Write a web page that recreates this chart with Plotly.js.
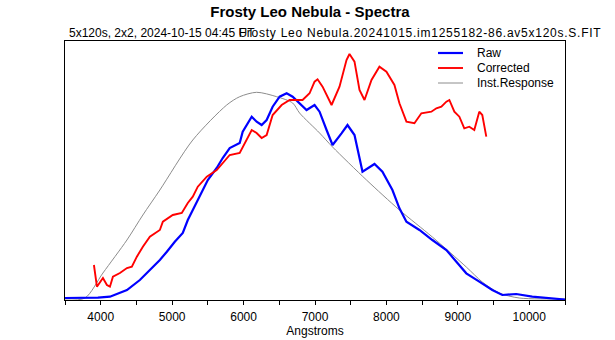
<!DOCTYPE html>
<html>
<head>
<meta charset="utf-8">
<script src="https://cdn.plot.ly/plotly-3.0.1.min.js"></script>
<style>html,body{margin:0;padding:0;background:#fff;}#chart{width:615px;height:340px;}</style>
</head>
<body>
<div id="chart"></div>
<script>
const chartTitle = 'Frosty Leo Nebula - Spectra';
const subLeft = '5x120s, 2x2, 2024-10-15 04:45 UT';
const subRight = 'Frosty Leo Nebula.20241015.im1255182-86.av5x120s.S.FIT';
const xTitle = 'Angstroms';
const seriesNames = ['Raw', 'Corrected', 'Inst.Response'];

const rawWave = [3500,3780,3961,4129,4367,4548,4688,4828,4926,5037,5149,5219,5289,5415,5499,5624,5708,5806,5946,5988,6114,6183,6253,6323,6407,6505,6603,6687,6784,6882,6994,7064,7162,7246,7371,7455,7553,7665,7833,7944,8084,8182,8280,8462,8643,8839,8979,9118,9300,9482,9622,9817,10041,10418,10500];
const rawFlux = [2,2,2.3,3.3,10,20,30,40,48.3,58.3,67,80,90,108.3,120,132,142,152,157,168.3,183.3,178.3,175,180,193.3,203.3,206.7,203.3,197,190,195,188.3,170,155,166.7,175,165,128.3,136,128.3,110,91.7,78.3,70,60,50,38.3,26.7,18.3,10,5,6,3.3,0.7,0.5];

const corrWave = [3905,3947,4031,4087,4129,4171,4269,4367,4436,4506,4590,4688,4828,4870,5009,5135,5219,5289,5359,5485,5624,5708,5806,5946,6016,6114,6183,6253,6323,6407,6533,6645,6826,6924,6994,7036,7106,7232,7343,7441,7483,7553,7623,7693,7791,7902,8000,8112,8182,8280,8392,8489,8629,8699,8769,8839,8881,8951,9021,9090,9160,9230,9300,9342,9398];
const corrFlux = [35,13.3,22,15,13.3,23.3,27,32,33.3,43.3,53.3,63.3,70,78.3,85,87,97,103.3,113.3,123.3,130,137,145,147,157,170,167,162,165,185,195,200,200,206.7,218.3,220.7,213.3,195,213.3,240,246,238.3,210,200,220,233.3,228.3,215,196.7,178.3,176.7,186.7,188.3,191.7,193.3,198.3,200,188.3,183.3,171.7,173.3,170,188.3,185,163.3];

const respWave = [3500,3780,4031,4367,4590,4828,5289,5764,5946,6183,6463,6687,6784,7064,7246,7721,8182,8643,9118,9342,9580,9859,10418,10500];
const respFlux = [0,2,27,60,85,110,160,195,203.3,207.7,203.3,197,187,167,153,120,90,63,33,18,7,2,1,1];

const tickVals = [4000,5000,6000,7000,8000,9000,10000];
const tickText = ['4000','5000','6000','7000','8000','9000','10000'];

const FONT = 'Liberation Sans, Arial, sans-serif';

const traces = [
  {x: respWave, y: respFlux, name: seriesNames[2], type: 'scatter', mode: 'lines',
   line: {color: '#8c8c8c', width: 1, shape: 'spline', smoothing: 0.8}},
  {x: rawWave, y: rawFlux, name: seriesNames[0], type: 'scatter', mode: 'lines',
   line: {color: '#0000ff', width: 2.2}},
  {x: corrWave, y: corrFlux, name: seriesNames[1], type: 'scatter', mode: 'lines',
   line: {color: '#ff0000', width: 1.9}}
];

const legColors = ['#0000ff', '#ff0000', '#8c8c8c'];
const legWidths = [2.2, 1.9, 1];
const legY = [53, 68, 83];
const shapes = [];
const annotations = [];
for (let i = 0; i < 3; i++) {
  shapes.push({type: 'line', xref: 'paper', yref: 'paper',
    x0: (438 - 65) / 500, x1: (463 - 65) / 500,
    y0: (300 - legY[i]) / 259, y1: (300 - legY[i]) / 259,
    line: {color: legColors[i], width: legWidths[i]}});
  annotations.push({xref: 'paper', yref: 'paper', x: (475 - 65) / 500, y: (300 - legY[i]) / 259,
    xanchor: 'left', yanchor: 'middle', text: seriesNames[i], showarrow: false,
    font: {family: FONT, size: 12, color: '#000'}});
}
annotations.push({xref: 'paper', yref: 'paper', x: (67 - 65) / 500, y: (300 - 33) / 259,
  xanchor: 'left', yanchor: 'middle', text: subLeft, showarrow: false,
  font: {family: FONT, size: 12, color: '#000'}});
annotations.push({xref: 'paper', yref: 'paper', x: (420 - 65) / 500, y: (300 - 33) / 259,
  xanchor: 'center', yanchor: 'middle', text: subRight, showarrow: false,
  font: {family: FONT, size: 12, color: '#000'}});

const layout = {
  width: 615, height: 340,
  margin: {l: 65, r: 50, t: 41, b: 40, pad: 0},
  paper_bgcolor: '#fff', plot_bgcolor: '#fff',
  showlegend: false,
  title: {text: '<b>' + chartTitle + '</b>', x: 0.504, xanchor: 'center', y: 1 - 12 / 340, yanchor: 'middle',
    font: {family: FONT, size: 15, color: '#000'}},
  xaxis: {range: [3500, 10500], tickmode: 'array', tickvals: tickVals, ticktext: tickText,
    ticks: 'outside', ticklen: 4, tickwidth: 1, tickcolor: '#000', ticklabelstandoff: 2,
    minor: {dtick: 500, tick0: 3500, ticks: 'outside', ticklen: 4, tickwidth: 1, tickcolor: '#000', showgrid: false},
    showline: true, mirror: true, linecolor: '#000', linewidth: 1,
    showgrid: false, zeroline: false,
    tickfont: {family: FONT, size: 12, color: '#000'},
    title: {text: xTitle, standoff: 1, font: {family: FONT, size: 12, color: '#000'}}},
  yaxis: {range: [0, 259], showticklabels: false, ticks: '',
    showline: true, mirror: true, linecolor: '#000', linewidth: 1,
    showgrid: false, zeroline: false},
  shapes: shapes,
  annotations: annotations
};

Plotly.newPlot('chart', traces, layout, {displayModeBar: false, staticPlot: true}).then(function (gd) {
  gd.querySelectorAll('.annotation-text').forEach(function (t) {
    if (t.textContent === subRight) t.style.letterSpacing = '0.75px';
  });
});
</script>
</body>
</html>
